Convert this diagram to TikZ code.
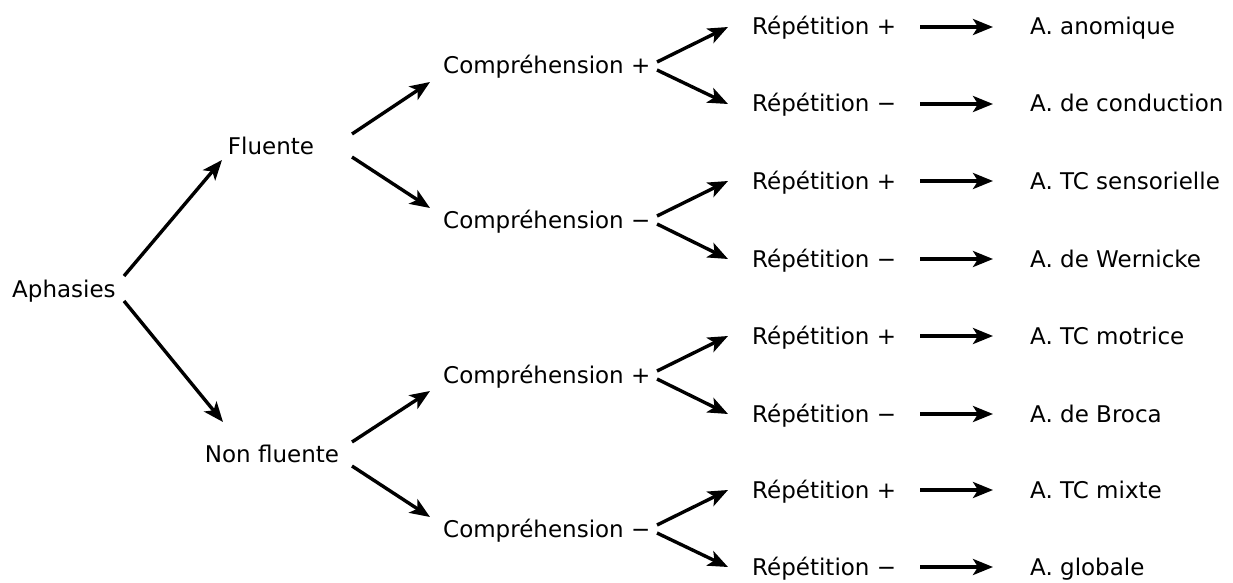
\documentclass[tikz,border=0pt]{standalone}
\usepackage{fontspec}
\setmainfont{DejaVu Sans}
\usetikzlibrary{arrows.meta}
\begin{document}
\begin{tikzpicture}[x=1pt,y=-1pt,
  txt/.style={font=\fontsize{23}{27}\selectfont, inner sep=0pt, text height=21pt, text depth=5pt},
  lbl/.style={txt, anchor=west},
  arr/.style={line width=3.4pt, -{Stealth[length=20pt,width=16pt,inset=5pt]}}]
\useasboundingbox (0,0) rectangle (1233,583);
% level 0
\node[lbl] (aph) at (12,289) {Aphasies};
% level 1
\node[txt] (flu) at (271,146) {Fluente};
\node[txt] (nfl) at (272,454) {Non fluente};
% level 2
\node[lbl] (c1) at (443,66) {Compréhension +};
\node[lbl] (c2) at (443,220) {Compréhension −};
\node[lbl] (c3) at (443,375) {Compréhension +};
\node[lbl] (c4) at (443,529) {Compréhension −};
% level 3
\node[lbl] (r1) at (752,27) {Répétition +};
\node[lbl] (r2) at (752,104) {Répétition −};
\node[lbl] (r3) at (752,181) {Répétition +};
\node[lbl] (r4) at (752,259) {Répétition −};
\node[lbl] (r5) at (752,336) {Répétition +};
\node[lbl] (r6) at (752,414) {Répétition −};
\node[lbl] (r7) at (752,490) {Répétition +};
\node[lbl] (r8) at (752,567) {Répétition −};
% results
\node[lbl] (s1) at (1030,27) {A. anomique};
\node[lbl] (s2) at (1030,104) {A. de conduction};
\node[lbl] (s3) at (1030,181) {A. TC sensorielle};
\node[lbl] (s4) at (1030,259) {A. de Wernicke};
\node[lbl] (s5) at (1030,336) {A. TC motrice};
\node[lbl] (s6) at (1030,414) {A. de Broca};
\node[lbl] (s7) at (1030,490) {A. TC mixte};
\node[lbl] (s8) at (1030,567) {A. globale};
% connectors level 0 -> 1
\draw[arr] ([shift={(112,-13)}]aph.west) -- ([shift={(-49,14)}]flu.center);
\draw[arr] ([shift={(112,12)}]aph.west) -- ([shift={(-49,-32)}]nfl.center);
% level 1 -> 2
\draw[arr] ([shift={(81,-12)}]flu.center) -- ([shift={(-13,16)}]c1.west);
\draw[arr] ([shift={(81,11)}]flu.center) -- ([shift={(-13,-12)}]c2.west);
\draw[arr] ([shift={(80,-12)}]nfl.center) -- ([shift={(-13,16)}]c3.west);
\draw[arr] ([shift={(80,12)}]nfl.center) -- ([shift={(-13,-12)}]c4.west);
% level 2 -> 3
\foreach \c/\a/\b in {c1/r1/r2, c2/r3/r4, c3/r5/r6, c4/r7/r8}{
  \draw[arr] ([shift={(214,-4)}]\c.west) -- ([xshift=-24]\a.west);
  \draw[arr] ([shift={(214,4)}]\c.west) -- ([xshift=-24]\b.west);
}
% level 3 -> results
\foreach \r/\s in {r1/s1, r2/s2, r3/s3, r4/s4, r5/s5, r6/s6, r7/s7, r8/s8}{
  \draw[arr] ([xshift=168]\r.west) -- ([xshift=-37]\s.west);
}
\end{tikzpicture}
\end{document}
